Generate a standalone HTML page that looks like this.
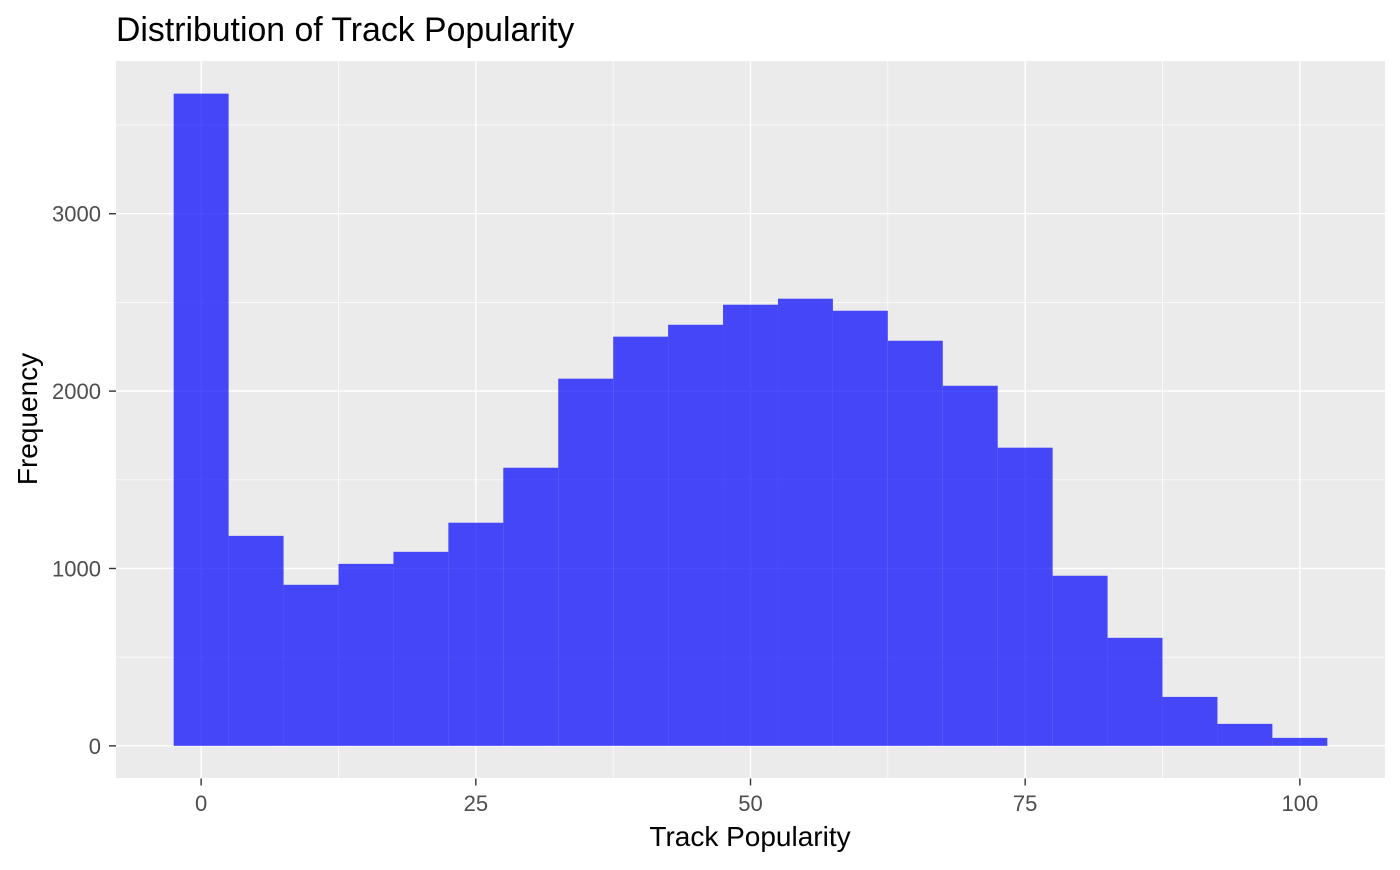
<!DOCTYPE html>
<html><head><meta charset="utf-8"><style>
body{margin:0;background:#fff;font-family:"Liberation Sans",Arial,sans-serif}
</style></head><body>
<svg id="chart" width="1400" height="865" xmlns="http://www.w3.org/2000/svg" font-family="Liberation Sans, Arial, sans-serif">
<rect width="1400" height="865" fill="#fff"/>
<text x="116" y="41" font-size="33.8" fill="#000">Distribution of Track Popularity</text>
<rect x="116" y="61" width="1269" height="717" fill="#ebebeb"/>
<g id="grid"></g><g id="bars"></g><g id="axes"></g>
<text x="750" y="846" font-size="28" text-anchor="middle" fill="#000">Track Popularity</text>
<text transform="translate(37,419) rotate(-90)" font-size="28" text-anchor="middle" fill="#000">Frequency</text>
</svg>
<script>
const binCenters=[0,5,10,15,20,25,30,35,40,45,50,55,60,65,70,75,80,85,90,95,100];
const counts=[3677,1184,908,1026,1094,1258,1568,2070,2307,2374,2487,2521,2453,2284,2030,1681,959,609,276,124,45];
const xTicks=[0,25,50,75,100];
const yTicks=[0,1000,2000,3000];
const binWidth=5;
const NS="http://www.w3.org/2000/svg";
const X0=116,X1=1385,Y0=778.5,Y1=61;
const xmin=-7.75,xmax=107.75,ymin=-184,ymax=3861;
function xs(v){return X0+(v-xmin)/(xmax-xmin)*(X1-X0);}
function ys(v){return Y0-(v-ymin)/(ymax-ymin)*(Y0-Y1);}
function mk(t,a,p){const e=document.createElementNS(NS,t);for(const k in a)e.setAttribute(k,a[k]);p.appendChild(e);return e;}
const grid=document.getElementById('grid'),bars=document.getElementById('bars'),axes=document.getElementById('axes');
for(let i=0;i<xTicks.length;i++){
  if(i<xTicks.length-1){const m=(xTicks[i]+xTicks[i+1])/2;const l=mk('line',{x1:xs(m),x2:xs(m),y1:Y1,y2:Y0,stroke:'#fff','stroke-width':0.7},grid);
  
  }
  const l=mk('line',{x1:xs(xTicks[i]),x2:xs(xTicks[i]),y1:Y1,y2:Y0,stroke:'#fff','stroke-width':1.4},grid);
  
  
  const tk=mk('line',{x1:xs(xTicks[i]),x2:xs(xTicks[i]),y1:Y0,y2:Y0+7,stroke:'#333','stroke-width':1.4},axes);
  
  
  const t=mk('text',{x:xs(xTicks[i]),y:811,'font-size':22,'text-anchor':'middle',fill:'#4d4d4d'},axes);
  t.textContent=xTicks[i];
  
  
}
for(let i=0;i<yTicks.length;i++){
  const m=yTicks[i]+500;
  const lm=mk('line',{x1:X0,x2:X1,y1:ys(m),y2:ys(m),stroke:'#fff','stroke-width':0.7},grid);
  
  
  const l=mk('line',{x1:X0,x2:X1,y1:ys(yTicks[i]),y2:ys(yTicks[i]),stroke:'#fff','stroke-width':1.4},grid);
  
  
  const tk=mk('line',{x1:X0-7,x2:X0,y1:ys(yTicks[i]),y2:ys(yTicks[i]),stroke:'#333','stroke-width':1.4},axes);
  
  
  const t=mk('text',{x:X0-15,y:ys(yTicks[i])+8,'font-size':22,'text-anchor':'end',fill:'#4d4d4d'},axes);
  t.textContent=yTicks[i];
  
  
}
for(let i=0;i<binCenters.length;i++){
  const xa=xs(binCenters[i]-binWidth/2),xb=xs(binCenters[i]+binWidth/2);
  const r=mk('rect',{x:xa,y:ys(counts[i]),width:xb-xa,height:ys(0)-ys(counts[i]),fill:'#0000ff','fill-opacity':0.7},bars);
  
  
}
</script>
</body></html>
